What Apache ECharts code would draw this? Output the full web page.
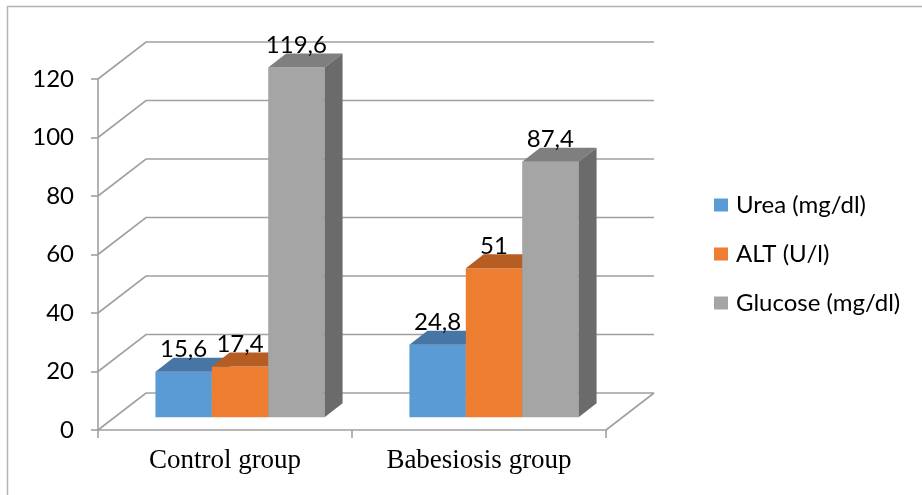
<!DOCTYPE html>
<html>
<head>
<meta charset="utf-8">
<script src="https://cdn.jsdelivr.net/npm/echarts@6/dist/echarts.min.js"></script>
<style>
  html, body { margin: 0; padding: 0; background: #ffffff; }
  #chart { width: 922px; height: 495px; }
</style>
</head>
<body>
<div id="chart"></div>
<script>
// ---- data ----
const categories = ['Control group', 'Babesiosis group'];
const ureaValues = [15.6, 24.8];
const altValues = [17.4, 51];
const glucoseValues = [119.6, 87.4];
const seriesNames = ['Urea (mg/dl)', 'ALT (U/l)', 'Glucose (mg/dl)'];
const yTicks = [0, 20, 40, 60, 80, 100, 120];

// ---- styling ----
// face colours for each series: front, top, right side
const palette = [
  { front: '#5B9BD5', top: '#4675A6', side: '#3E6A99' },
  { front: '#ED7D31', top: '#B55D22', side: '#A3521D' },
  { front: '#A5A5A5', top: '#7F7F7F', side: '#6B6B6B' }
];
const GRID_COLOR = '#A0A0A0';
const LABEL_FONT = 'Lato';

// oblique projection of the depth axis, in pixels
const WALL_DX = 48, WALL_DY = -37;     // full floor depth
const BAR_OFF_X = 15, BAR_OFF_Y = -12.7; // bars sit a little behind the front edge
const BAR_DX = 18, BAR_DY = -14;       // depth of a single bar
const BAR_FRAC = 0.222;                // share of a category band taken by one bar

function fmt(v) {
  return String(v).replace('.', ',');
}

// back wall, left wall and floor lines
function renderWall(params, api) {
  const v = api.value(1);
  const p = api.coord([0, v]);
  const bw = api.size([1, 0])[0];
  const x0 = p[0] - bw / 2;
  const xEnd = api.coord([categories.length - 1, v])[0] + bw / 2;
  const y = p[1];
  const style = { stroke: GRID_COLOR, lineWidth: 1.6, fill: null };
  const children = [{
    type: 'polyline',
    shape: { points: [[x0, y], [x0 + WALL_DX, y + WALL_DY], [xEnd + WALL_DX, y + WALL_DY]] },
    style: style
  }];
  if (v === 0) {
    children.push({
      type: 'line',
      shape: { x1: xEnd, y1: y, x2: xEnd + WALL_DX, y2: y + WALL_DY },
      style: style
    });
  }
  return { type: 'group', children: children };
}

// one 3D column: front face, top face, right face and value label
function makeBarRenderer(s) {
  return function (params, api) {
    const ci = api.value(0);
    const v = api.value(1);
    const base = api.coord([ci, 0]);
    const top = api.coord([ci, v]);
    const bw = api.size([1, 0])[0];
    const w = bw * BAR_FRAC;
    const xl = base[0] - 1.5 * w + s * w + BAR_OFF_X;
    const xr = xl + w;
    const yb = base[1] + BAR_OFF_Y;
    const yt = top[1] + BAR_OFF_Y;
    const c = palette[s];
    return {
      type: 'group',
      children: [
        {
          type: 'polygon',
          shape: { points: [[xl, yb], [xr, yb], [xr, yt], [xl, yt]] },
          style: { fill: c.front }
        },
        {
          type: 'polygon',
          shape: { points: [[xl, yt], [xr, yt], [xr + BAR_DX, yt + BAR_DY], [xl + BAR_DX, yt + BAR_DY]] },
          style: { fill: c.top }
        },
        {
          type: 'polygon',
          shape: { points: [[xr, yb], [xr + BAR_DX, yb + BAR_DY], [xr + BAR_DX, yt + BAR_DY], [xr, yt]] },
          style: { fill: c.side }
        },
        {
          type: 'text',
          z2: 50,
          style: {
            text: fmt(v),
            x: (xl + xr) / 2,
            y: yt + BAR_DY + 4,
            align: 'center',
            verticalAlign: 'bottom',
            font: '24px ' + LABEL_FONT,
            fill: '#000000'
          }
        }
      ]
    };
  };
}

const valueSets = [ureaValues, altValues, glucoseValues];
const barSeries = valueSets.map(function (vals, s) {
  return {
    name: seriesNames[s],
    type: 'custom',
    renderItem: makeBarRenderer(s),
    itemStyle: { color: palette[s].front },
    encode: { x: 0, y: 1 },
    data: vals.map(function (v, i) { return [i, v]; }),
    z: 3 + s
  };
});

const axisLineStyle = { color: GRID_COLOR, width: 1.6 };

const chart = echarts.init(document.getElementById('chart'), null, { renderer: 'canvas' });
chart.setOption({
  animation: false,
  backgroundColor: '#ffffff',
  color: palette.map(function (p) { return p.front; }),
  graphic: [{
    type: 'rect',
    shape: { x: 7.5, y: 6.5, width: 940, height: 520 },
    style: { fill: null, stroke: '#B4B4B4', lineWidth: 1.5 },
    silent: true
  }],
  grid: { left: 98, right: 316, top: 79, bottom: 65 },
  legend: {
    orient: 'vertical',
    left: 709,
    top: 188,
    icon: 'rect',
    itemWidth: 14,
    itemHeight: 13,
    itemGap: 25,
    selectedMode: false,
    data: seriesNames,
    textStyle: {
      fontFamily: LABEL_FONT,
      fontSize: 24,
      lineHeight: 24,
      color: '#000000',
      padding: [0, 0, 0, 3]
    }
  },
  xAxis: {
    type: 'category',
    data: categories,
    boundaryGap: true,
    axisLine: { show: true, lineStyle: axisLineStyle },
    axisTick: { show: true, interval: 0, length: 8, lineStyle: axisLineStyle },
    axisLabel: {
      margin: 17,
      fontFamily: 'Liberation Serif',
      fontSize: 27,
      color: '#000000'
    },
    splitLine: { show: false }
  },
  yAxis: {
    type: 'value',
    min: yTicks[0],
    max: yTicks[yTicks.length - 1],
    interval: yTicks[1] - yTicks[0],
    axisLine: { show: true, lineStyle: axisLineStyle },
    axisTick: { show: true, length: 7, lineStyle: axisLineStyle },
    axisLabel: {
      margin: 24,
      fontFamily: LABEL_FONT,
      fontSize: 24,
      color: '#000000'
    },
    splitLine: { show: false }
  },
  series: [{
    name: 'walls',
    type: 'custom',
    renderItem: renderWall,
    encode: { x: 0, y: 1 },
    data: yTicks.map(function (v) { return [0, v]; }),
    silent: true,
    z: 1
  }].concat(barSeries)
});
</script>
</body>
</html>
